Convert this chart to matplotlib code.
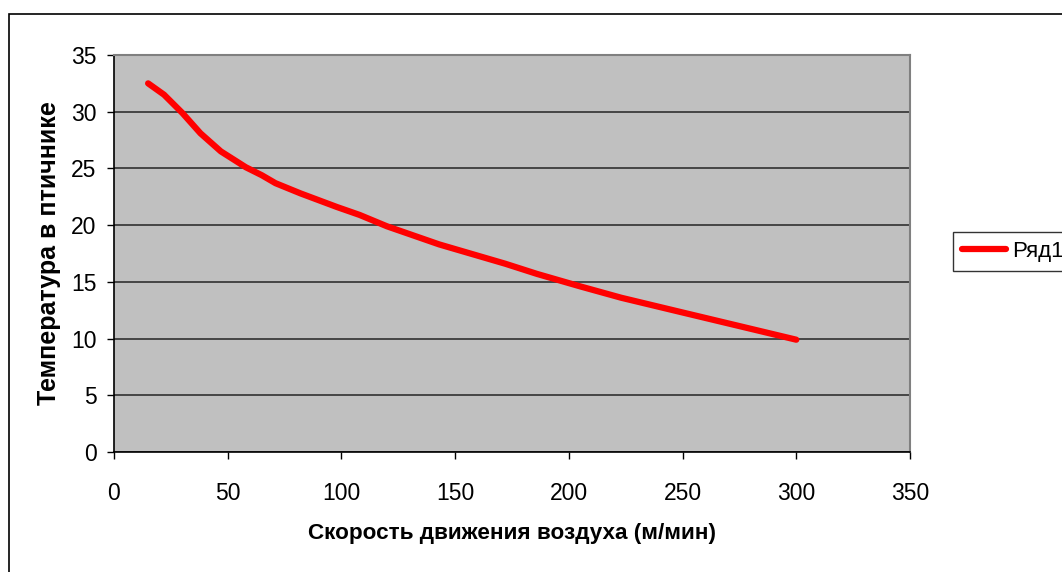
import matplotlib
matplotlib.use('Agg')
import matplotlib.pyplot as plt
import matplotlib.patches as patches

plt.rcParams['font.family'] = ['Liberation Sans', 'DejaVu Sans']

# данные
skorost = [15, 22, 30, 38, 47, 58, 65, 71, 82, 98, 108, 120, 143, 172, 186, 205, 223, 250, 275, 300]
temperatura = [32.5, 31.5, 29.9, 28.1, 26.5, 25.1, 24.4, 23.7, 22.8, 21.6, 20.9, 19.9, 18.3,
               16.6, 15.7, 14.6, 13.6, 12.3, 11.1, 9.9]
x_ticks = [0, 50, 100, 150, 200, 250, 300, 350]
y_ticks = [0, 5, 10, 15, 20, 25, 30, 35]

W, H = 1062, 572
fig = plt.figure(figsize=(W / 100, H / 100), dpi=100)
ax = fig.add_axes([114 / W, 1 - 452 / H, (910 - 114) / W, (452 - 55) / H])

ax.set_facecolor('#c0c0c0')
ax.plot(skorost, temperatura, color='#ff0000', linewidth=4.5, solid_capstyle='round',
        solid_joinstyle='round', label='Ряд1', zorder=3)

ax.set_xlim(0, 350)
ax.set_ylim(0, 35)
ax.set_xticks(x_ticks)
ax.set_yticks(y_ticks)
ax.grid(axis='y', color='#303030', linewidth=1.2)
ax.set_axisbelow(True)

for s in ['left', 'bottom']:
    ax.spines[s].set_color('black')
    ax.spines[s].set_linewidth(1.2)
for s in ['top', 'right']:
    ax.spines[s].set_color('#808080')
    ax.spines[s].set_linewidth(1.5)

ax.tick_params(axis='both', direction='out', length=5, width=1, labelsize=16.5, colors='black')
ax.tick_params(axis='x', pad=16.5)
ax.tick_params(axis='y', pad=7.5)

ax.set_xlabel('Скорость движения воздуха (м/мин)', fontsize=16.2, fontweight='bold', labelpad=13)
ax.set_ylabel('Температура в птичнике', fontsize=18, fontweight='bold', labelpad=7)

leg = fig.legend(loc='center left', bbox_to_anchor=(953 / W, 1 - 251.5 / H), fontsize=16,
                 frameon=True, fancybox=False, handlelength=2.0, borderpad=0.4,
                 handletextpad=0.27, borderaxespad=0)
leg.get_frame().set_edgecolor('black')
leg.get_frame().set_linewidth(1)

# внешняя рамка диаграммы
fig.patches.append(patches.Rectangle((9 / W, -0.05), 1.2, (H - 14) / H + 0.05,
                                     transform=fig.transFigure, fill=False,
                                     edgecolor='black', linewidth=1.2))

plt.savefig('out.png', dpi=100)
